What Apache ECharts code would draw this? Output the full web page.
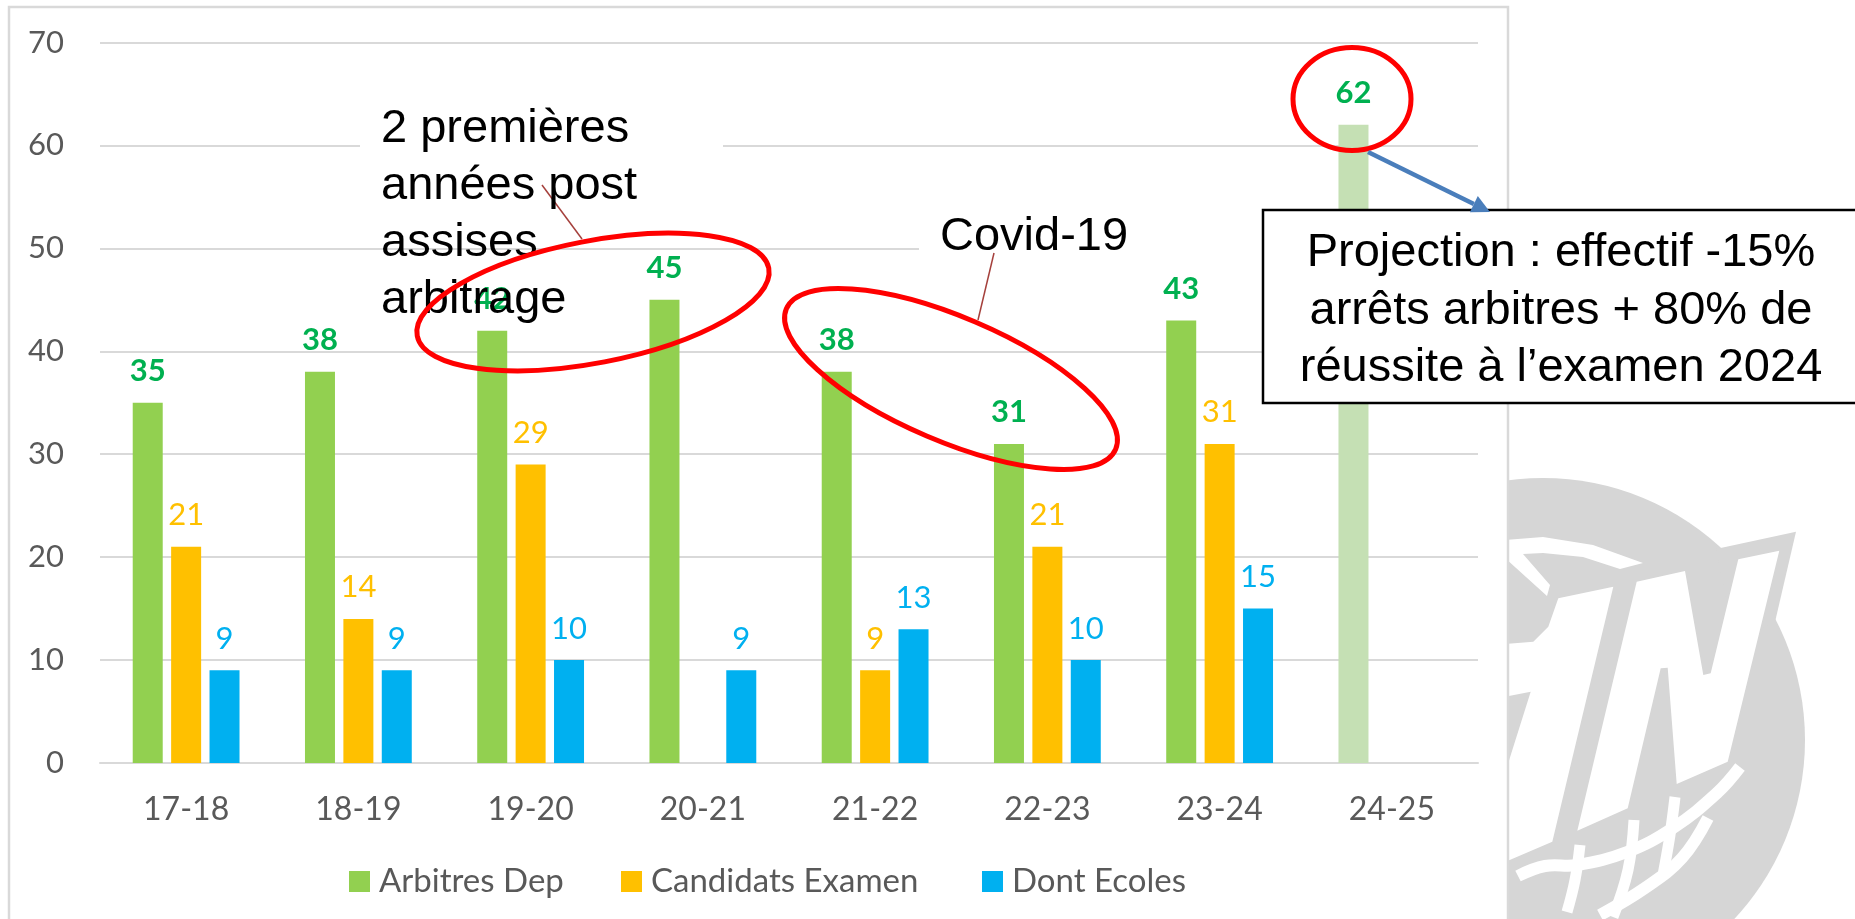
<!DOCTYPE html>
<html>
<head>
<meta charset="utf-8">
<script src="https://cdn.jsdelivr.net/npm/echarts@6/dist/echarts.min.js"></script>
<style>
html,body{margin:0;padding:0;background:#fff;}
#chart{width:1855px;height:919px;}
</style>
</head>
<body>
<div id="chart"></div>
<script>
// ---- data ----
const categories = ['17-18', '18-19', '19-20', '20-21', '21-22', '22-23', '23-24', '24-25'];
const arbitresDep = [35, 38, 42, 45, 38, 31, 43, 62];
const candidatsExamen = [21, 14, 29, null, 9, 21, 31, null];
const dontEcoles = [9, 9, 10, 9, 13, 10, 15, null];
const seriesNames = ['Arbitres Dep', 'Candidats Examen', 'Dont Ecoles'];
const yMin = 0, yMax = 70, yInterval = 10;
const projectionIndex = 7;

const noteText1 = ['2 premières', 'années post', 'assises', 'arbitrage'];
const noteCovid = 'Covid-19';
const noteProjection = ['Projection : effectif -15%', 'arrêts arbitres + 80% de', 'réussite à l\u2019examen 2024'];

// ---- styles ----
const GREEN = '#92D050', ORANGE = '#FFC000', BLUE = '#00B0F0', LIGHTGREEN = '#C5E0B4';
const LABELGREEN = '#00B050';
const AXISTXT = '#595959', GRIDC = '#D9D9D9';
const FONT = 'Lato';
const NOTEFONT = '47px "Liberation Sans"';
const LOGO = '#D6D6D6';
const TXTSHIFT = 11;

const chart = echarts.init(document.getElementById('chart'), null, {renderer: 'canvas'});

function lbl(color, bold) {
  return {show: true, position: 'top', distance: 16, color: color, fontFamily: FONT,
          fontSize: 31, fontWeight: bold ? 'bold' : 'normal'};
}

// logo helper (decorative watermark)
function poly(points, fill, z) {
  return {type: 'polygon', shape: {points: points}, style: {fill: fill}, z: z, silent: true};
}
function stroke(points, w, z) {
  return {type: 'polyline', shape: {points: points, smooth: 0.4}, style: {stroke: '#fff', lineWidth: w, fill: null, lineCap: 'butt'}, z: z, silent: true};
}

// arrow geometry
const aStart = [1368, 152], aTip = [1490, 212];
const adx = aTip[0] - aStart[0], ady = aTip[1] - aStart[1];
const alen = Math.sqrt(adx * adx + ady * ady);
const ux = adx / alen, uy = ady / alen;
const headL = 18, headW = 9;
const aBase = [aTip[0] - ux * headL, aTip[1] - uy * headL];

const graphics = [
  // logo watermark (behind chart box)
  {type: 'circle', shape: {cx: 1543, cy: 740, r: 262}, style: {fill: LOGO}, z: -20, silent: true},
  poly([[1716, 549], [1796, 531.7], [1775, 622], [1735, 640]], LOGO, -20),
  poly([[1636.7, 581.7], [1685, 571], [1703.3, 675], [1710.7, 673.3], [1738.3, 559.3], [1779.3, 550.7],
        [1727.7, 761.7], [1676.7, 784], [1667.7, 667.7], [1660.7, 668.3], [1627.7, 808.3], [1577.3, 830.7]], '#fff', -19),
  poly([[1558.3, 598.3], [1613.3, 586.7], [1552.3, 841.7], [1505, 862], [1505, 773.3], [1530.7, 691.7],
        [1505, 696.7], [1505, 644], [1533.3, 641.7], [1548.3, 626.7]], '#fff', -19),
  poly([[1505, 540], [1543, 537], [1593, 545], [1643, 563], [1620, 569], [1583, 557], [1543, 553], [1523, 554],
        [1550, 585], [1547, 596], [1505, 558]], '#fff', -19),
  stroke([[1518, 876], [1545, 866], [1577, 865], [1627, 852], [1673, 828], [1717, 793], [1740, 767]], 12, -19),
  stroke([[1600, 915], [1645, 888], [1682, 858], [1708, 818]], 12, -19),
  stroke([[1580, 845], [1575, 880], [1567, 912]], 11, -19),
  stroke([[1634, 820], [1628, 870], [1613, 917]], 11, -19),
  stroke([[1675, 797], [1670, 835], [1663, 875]], 11, -19),

  // chart box
  {type: 'rect', shape: {x: 9, y: 7, width: 1499, height: 940}, style: {fill: '#fff', stroke: GRIDC, lineWidth: 2.5}, z: -10, silent: true},

  // note 1
  {type: 'rect', shape: {x: 360, y: 92, width: 363, height: 120}, style: {fill: '#fff'}, z: 50, silent: true},
  {type: 'line', shape: {x1: 542, y1: 185, x2: 582, y2: 239}, style: {stroke: '#A5403C', lineWidth: 1.5}, z: 51, silent: true},
  ...noteText1.map((t, i) => ({type: 'text', x: 381, y: 142 + TXTSHIFT + i * 57, style: {text: t, font: NOTEFONT, fill: '#000', textAlign: 'left', textVerticalAlign: 'bottom'}, z: 52, silent: true})),

  // note covid
  {type: 'rect', shape: {x: 919, y: 205, width: 344, height: 57}, style: {fill: '#fff'}, z: 50, silent: true},
  {type: 'line', shape: {x1: 994, y1: 253, x2: 978, y2: 320}, style: {stroke: '#A5403C', lineWidth: 1.5}, z: 51, silent: true},
  {type: 'text', x: 940, y: 250 + TXTSHIFT, style: {text: noteCovid, font: NOTEFONT, fill: '#000', textAlign: 'left', textVerticalAlign: 'bottom'}, z: 52, silent: true},

  // projection box
  {type: 'rect', shape: {x: 1263, y: 210, width: 620, height: 193}, style: {fill: '#fff', stroke: '#000', lineWidth: 2.5}, z: 60, silent: true},
  ...noteProjection.map((t, i) => ({type: 'text', x: 1561, y: 266 + TXTSHIFT + i * 57.5, style: {text: t, font: NOTEFONT, fill: '#000', textAlign: 'center', textVerticalAlign: 'bottom'}, z: 61, silent: true})),

  // red ellipses
  {type: 'ellipse', shape: {cx: 0, cy: 0, rx: 179, ry: 61}, x: 593, y: 302, rotation: 10.9 * Math.PI / 180,
   style: {fill: null, stroke: '#FF0000', lineWidth: 5}, z: 70, silent: true},
  {type: 'ellipse', shape: {cx: 0, cy: 0, rx: 179, ry: 62}, x: 951, y: 379, rotation: -23.1 * Math.PI / 180,
   style: {fill: null, stroke: '#FF0000', lineWidth: 5}, z: 70, silent: true},
  {type: 'ellipse', shape: {cx: 1352, cy: 99, rx: 59, ry: 51.5},
   style: {fill: null, stroke: '#FF0000', lineWidth: 5}, z: 70, silent: true},

  // arrow
  {type: 'line', shape: {x1: aStart[0], y1: aStart[1], x2: aBase[0], y2: aBase[1]}, style: {stroke: '#4A7EBB', lineWidth: 4.5}, z: 70, silent: true},
  {type: 'polygon', shape: {points: [aTip, [aBase[0] - uy * headW, aBase[1] + ux * headW], [aBase[0] + uy * headW, aBase[1] - ux * headW]]},
   style: {fill: '#4A7EBB'}, z: 70, silent: true}
];

const legendLefts = [344, 616, 977];
function legendFor(i) {
  return {
    data: [seriesNames[i]], left: legendLefts[i], top: 860, itemWidth: 21, itemHeight: 21, icon: 'rect',
    textStyle: {color: AXISTXT, fontFamily: FONT, fontSize: 33, padding: [0, 0, 0, 4]}
  };
}

const option = {
  backgroundColor: '#fff',
  animation: false,
  grid: {left: 100, right: 377, top: 42.5, bottom: 156, containLabel: false},
  legend: [legendFor(0), legendFor(1), legendFor(2)],
  xAxis: {
    type: 'category', data: categories,
    axisLine: {show: true, lineStyle: {color: GRIDC, width: 2}},
    axisTick: {show: false},
    axisLabel: {color: AXISTXT, fontFamily: FONT, fontSize: 32, margin: 31}
  },
  yAxis: {
    type: 'value', min: yMin, max: yMax, interval: yInterval,
    axisLine: {show: false}, axisTick: {show: false},
    splitLine: {lineStyle: {color: GRIDC, width: 2}},
    axisLabel: {color: AXISTXT, fontFamily: FONT, fontSize: 31, margin: 36}
  },
  series: [
    {name: seriesNames[0], type: 'bar', barWidth: 30, barGap: '28%',
     itemStyle: {color: GREEN},
     data: arbitresDep.map((v, i) => i === projectionIndex ? {value: v, itemStyle: {color: LIGHTGREEN}} : v),
     label: lbl(LABELGREEN, true)},
    {name: seriesNames[1], type: 'bar', barWidth: 30, barGap: '28%',
     itemStyle: {color: ORANGE}, data: candidatsExamen, label: lbl(ORANGE, false)},
    {name: seriesNames[2], type: 'bar', barWidth: 30, barGap: '28%',
     itemStyle: {color: BLUE}, data: dontEcoles, label: lbl(BLUE, false)}
  ],
  graphic: graphics
};
chart.setOption(option);
</script>
</body>
</html>
